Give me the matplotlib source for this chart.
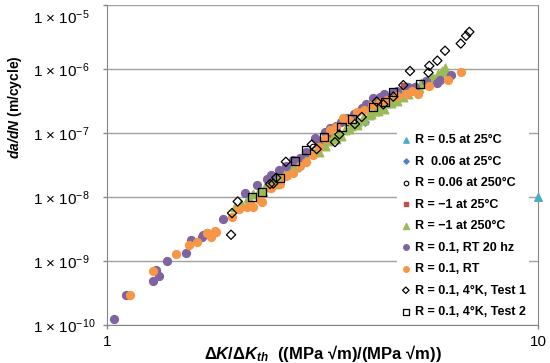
import matplotlib
matplotlib.use("Agg")
import matplotlib.pyplot as plt
from matplotlib.transforms import ScaledTranslation

plt.rcParams['font.family'] = ['Liberation Sans', 'DejaVu Sans']
plt.rcParams['mathtext.fontset'] = 'custom'
plt.rcParams['mathtext.rm'] = 'Liberation Sans'
plt.rcParams['mathtext.it'] = 'Liberation Sans:italic'
plt.rcParams['mathtext.bf'] = 'Liberation Sans:bold'
plt.rcParams['mathtext.bfit'] = 'Liberation Sans:italic:bold'

# R = 0.5 at 25C
r05_x = [10.0]
r05_y = [1.0e-8]

# R 0.06 at 25C
r006_x = [3.30, 3.97, 4.25, 4.50]
r006_y = [1.0e-7, 1.5e-7, 2.9e-7, 3.2e-7]

# R = 0.06 at 250C
r006h_x = [2.50, 3.00, 3.60, 4.30]
r006h_y = [1.8e-8, 6.0e-8, 1.5e-7, 3.0e-7]

# R = -1 at 25C
rm1_x = [2.45, 3.30, 4.90]
rm1_y = [1.9e-8, 9.0e-8, 5.5e-7]

# R = -1 at 250C
rm1h_x = [1.98, 2.05, 2.12, 2.18, 2.25, 2.32, 2.40, 2.48, 2.55, 2.62, 2.70, 2.78, 2.86,
          2.95, 3.05, 3.15, 3.25, 3.35, 3.45, 3.56, 3.68, 3.80, 3.92, 4.05, 4.18, 4.32,
          4.46, 4.60, 4.75, 4.90, 5.05, 5.20, 5.36, 5.52, 5.68, 5.85, 6.00, 6.10,
          2.30, 2.60, 2.90, 3.20, 3.50, 3.80, 4.10, 4.40, 4.70, 5.00, 5.30, 5.60, 5.90,
          2.15, 2.45, 2.75, 3.10, 3.40, 3.65, 3.95, 4.25, 4.55, 4.85, 5.15, 5.45, 5.75, 6.05]
rm1h_y = [7.0e-9, 7.8e-9, 9.5e-9, 1.1e-8, 1.25e-8, 1.45e-8, 1.7e-8, 1.9e-8, 2.2e-8, 2.6e-8,
          3.0e-8, 3.6e-8, 4.1e-8, 4.8e-8, 5.5e-8, 6.5e-8, 7.5e-8, 8.6e-8, 9.8e-8, 1.1e-7,
          1.3e-7, 1.5e-7, 1.7e-7, 1.9e-7, 2.2e-7, 2.5e-7, 2.9e-7, 3.3e-7, 3.8e-7, 4.3e-7,
          4.8e-7, 5.4e-7, 6.0e-7, 6.7e-7, 7.5e-7, 8.4e-7, 9.4e-7, 1.05e-6,
          1.2e-8, 2.3e-8, 4.0e-8, 6.2e-8, 9.0e-8, 1.35e-7, 2.0e-7, 2.4e-7, 3.2e-7, 4.0e-7,
          5.0e-7, 6.2e-7, 7.8e-7,
          9.0e-9, 1.6e-8, 2.9e-8, 5.0e-8, 8.0e-8, 1.15e-7, 1.6e-7, 2.2e-7, 2.9e-7, 3.7e-7,
          4.7e-7, 5.8e-7, 7.0e-7, 9.0e-7]

# R = 0.1, RT 20 hz
hz_x = [1.038, 1.107, 1.276, 1.322, 1.299, 1.375, 1.525, 1.564, 1.661, 1.703, 1.67, 1.858,
        2.09, 2.225, 2.40, 2.60, 2.804, 3.038, 3.20, 3.40, 3.60, 3.899, 4.149, 4.40, 4.70,
        5.18, 5.18, 5.82, 5.925, 6.28,
        2.35, 2.50, 2.70, 2.90, 3.10, 3.30, 3.50, 3.75, 4.00, 4.30, 4.60, 5.00, 5.50]
hz_y = [1.26e-10, 2.9e-10, 4.9e-10, 5.9e-10, 7.2e-10, 1.0e-9, 1.32e-9, 2.14e-9, 2.34e-9,
        2.75e-9, 2.57e-9, 4.5e-9, 1.17e-8, 1.55e-8, 2.2e-8, 3.0e-8, 4.0e-8, 8.5e-8, 1.05e-7,
        1.3e-7, 1.7e-7, 2.45e-7, 3.47e-7, 4.0e-7, 4.5e-7, 5.2e-7, 5.0e-7, 6.1e-7, 6.8e-7, 8.1e-7,
        1.9e-8, 2.6e-8, 3.8e-8, 5.0e-8, 7.5e-8, 1.2e-7, 1.5e-7, 2.0e-7, 2.8e-7, 3.6e-7,
        4.3e-7, 5.2e-7, 6.5e-7]

# R = 0.1, RT
rt_x = [1.131, 1.276, 1.445, 1.552, 1.615, 1.740, 1.790, 1.703, 1.78, 1.947, 2.02, 2.11,
        2.18, 2.285, 2.16, 2.26, 2.52, 2.70, 2.90, 3.10, 3.30, 3.535, 3.80, 4.113, 4.456,
        4.94, 5.276, 6.194, 6.617,
        2.40, 2.60, 2.80, 3.00, 3.20, 3.40, 3.65, 3.95, 4.30, 4.70, 5.10, 5.60]
rt_y = [2.9e-10, 7.1e-10, 1.29e-9, 1.78e-9, 1.95e-9, 2.4e-9, 2.8e-9, 2.7e-9, 2.9e-9, 4.9e-9,
        6.5e-9, 7.1e-9, 7.1e-9, 8.5e-9, 7.5e-9, 8.9e-9, 1.62e-8, 2.4e-8, 3.5e-8, 6.0e-8,
        1.1e-7, 1.7e-7, 2.1e-7, 2.75e-7, 3.3e-7, 4.1e-7, 4.1e-7, 6.8e-7, 8.9e-7,
        1.4e-8, 2.1e-8, 3.0e-8, 4.5e-8, 8.0e-8, 1.25e-7, 1.6e-7, 2.3e-7, 3.0e-7, 3.8e-7,
        4.5e-7, 5.5e-7]

# R = 0.1, 4K, Test 1
t1_x = [1.94, 1.95, 2.01, 2.39, 2.43, 2.47, 2.60, 2.985, 3.066, 3.38, 3.46, 3.76, 3.90,
        4.225, 4.376, 4.616, 4.87, 5.047, 5.57, 5.595, 5.84, 6.085, 6.617, 6.81, 6.93]
t1_y = [2.57e-9, 5.6e-9, 8.5e-9, 1.6e-8, 1.62e-8, 2.0e-8, 3.55e-8, 6.6e-8, 5.6e-8, 7.2e-8,
        9.5e-8, 1.38e-7, 1.78e-7, 3.1e-7, 2.8e-7, 3.7e-7, 5.6e-7, 9.3e-7, 8.8e-7, 1.12e-6,
        1.35e-6, 1.93e-6, 2.5e-6, 3.3e-6, 3.8e-6]

# R = 0.1, 4K, Test 2
t2_x = [2.17, 2.285, 2.52, 2.73, 2.89, 3.19, 3.50, 3.70, 4.15, 4.42, 4.60, 5.33]
t2_y = [1.0e-8, 1.2e-8, 2.0e-8, 3.7e-8, 5.4e-8, 8.7e-8, 1.23e-7, 1.65e-7, 2.57e-7, 3.1e-7,
        4.4e-7, 5.9e-7]

ytick_vals = [1e-10, 1e-9, 1e-8, 1e-7, 1e-6, 1e-5]
ytick_labels = ['1 × 10$^{-10}$', '1 × 10$^{-9}$', '1 × 10$^{-8}$',
                '1 × 10$^{-7}$', '1 × 10$^{-6}$', '1 × 10$^{-5}$']

fig = plt.figure(figsize=(5.5, 3.63), dpi=100)
ax = fig.add_axes([107/550, 1 - 325/363, 431/550, 320/363])

ax.scatter(r05_x, r05_y, marker='^', s=30, color='#4BACC6', label='R = 0.5 at 25°C',
           clip_on=False, zorder=3)
ax.scatter(r006_x, r006_y, marker='D', s=14, color='#4F81BD', label='R  0.06 at 25°C', zorder=3)
ax.scatter(r006h_x, r006h_y, marker='o', s=22, facecolor='white', edgecolor='black',
           linewidth=0.8, label='R = 0.06 at 250°C', zorder=3)
ax.scatter(rm1_x, rm1_y, marker='s', s=18, color='#C0504D', label='R = −1 at 25°C', zorder=3)
ax.scatter(rm1h_x, rm1h_y, marker='^', s=38, color='#9BBB59', label='R = −1 at 250°C', zorder=3)
ax.scatter(hz_x, hz_y, marker='o', s=32, color='#8064A2', label='R = 0.1, RT 20 hz', zorder=3)
ax.scatter(rt_x, rt_y, marker='o', s=32, color='#F79646', label='R = 0.1, RT', zorder=3)
ax.scatter(t1_x, t1_y, marker='D', s=22, facecolor='none', edgecolor='black',
           linewidth=0.9, label='R = 0.1, 4°K, Test 1', zorder=3)
ax.scatter(t2_x, t2_y, marker='s', s=34, facecolor='none', edgecolor='black',
           linewidth=0.9, label='R = 0.1, 4°K, Test 2', zorder=3)

ax.set_xscale('log')
ax.set_yscale('log')
ax.set_xlim(1, 10)
ax.set_ylim(1e-10, 1e-5)
ax.set_xticks([1, 10])
ax.set_xticklabels(['1', '10'])
ax.set_yticks(ytick_vals)
ax.set_yticklabels(ytick_labels)
ax.minorticks_off()
ax.tick_params(axis='both', which='major', direction='out', length=3, color='#868686',
               labelsize=11, width=1)
ax.tick_params(axis='x', pad=4)
ax.tick_params(axis='y', pad=50)
for lab in ax.get_yticklabels():
    lab.set_horizontalalignment('left')
top_lab = ax.get_yticklabels()[-1]
top_lab.set_transform(top_lab.get_transform() + ScaledTranslation(0, -0.11, fig.dpi_scale_trans))

ax.grid(axis='y', color='#A0A0A0', linewidth=1)
ax.set_axisbelow(True)
for s in ax.spines.values():
    s.set_color('#868686')
ax.spines['top'].set_visible(False)

ax.set_ylabel(r'$\mathbfit{da/dN}$ (m/cycle)', fontsize=10, fontweight='bold')
ax.yaxis.set_label_coords(-0.213, 0.68)
ax.yaxis.label.set_va('center')
ax.set_xlabel(r'$\mathbf{\Delta}\mathbfit{K}\mathbf{/\Delta}\mathbfit{K}_{\mathbfit{th}}$  ((MPa √m)/(MPa √m))',
              fontsize=12, fontweight='bold')
ax.xaxis.set_label_coords(0.5, -0.0875)
ax.xaxis.label.set_va('center')

leg = ax.legend(loc='lower left', bbox_to_anchor=(0.673, 0.01), frameon=True, fancybox=False,
                edgecolor='none', facecolor='white', framealpha=1,
                prop={'weight': 'bold', 'size': 9}, labelspacing=0.76, handlelength=0.8,
                handletextpad=0.3, borderpad=0.3, markerscale=0.7, borderaxespad=0)
leg.set_zorder(5)

fig.savefig('out.png', dpi=100)
